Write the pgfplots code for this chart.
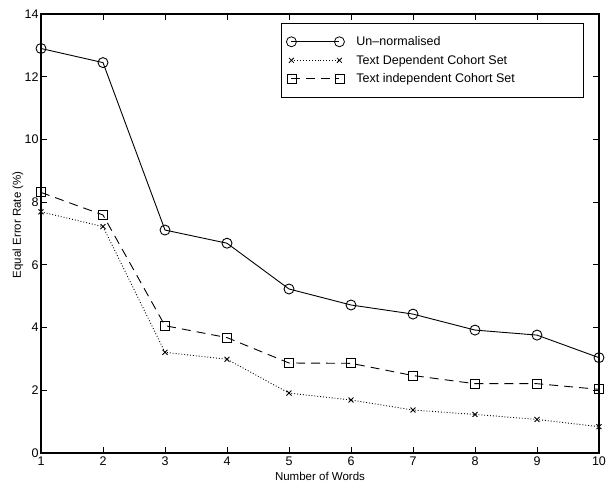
\documentclass[border=0pt]{standalone}
\usepackage{fontspec}
\setmainfont{Liberation Sans}
\usepackage{pgfplots}
\pgfplotsset{compat=1.18}

\pgfplotstableread{
x  unnorm  tdep  tind
1  12.90   7.69  8.31
2  12.45   7.22  7.59
3  7.11    3.21  4.06
4  6.69    2.99  3.68
5  5.23    1.91  2.87
6  4.72    1.69  2.86
7  4.43    1.37  2.47
8  3.92    1.23  2.21
9  3.76    1.07  2.21
10 3.04    0.84  2.03
}\eer

\begin{document}
\begin{tikzpicture}
\path[use as bounding box] (-41pt,-29pt) rectangle (565pt,453pt);
\begin{axis}[
  at={(0pt,0pt)}, anchor=south west,
  scale only axis, width=558pt, height=439pt,
  xmin=1, xmax=10, ymin=0, ymax=14,
  xtick={1,...,10}, ytick={0,2,...,14},
  tick align=inside, major tick length=6pt,
  axis line style={line width=1.1pt},
  tick style={line width=0.9pt, black},
  /pgf/number format/assume math mode=true,
  tick label style={font=\fontsize{12.5}{14}\selectfont},
  yticklabel style={xshift=1pt},
  label style={font=\fontsize{11.5}{13}\selectfont},
  xlabel={Number of Words},
  ylabel={Equal Error Rate (\%)},
  xlabel style={at={(0.5,0)}, anchor=center, yshift=-23pt},
  ylabel style={at={(0,0.52)}, anchor=center, yshift=23pt},
  legend style={at={(0.430,0.9795)}, anchor=north west, draw=black,
    line width=1pt, font=\fontsize{12.5}{15}\selectfont,
    inner xsep=5pt, inner ysep=11pt, row sep=4pt,
    /tikz/every odd column/.append style={column sep=10pt}},
  legend cell align=left,
  legend image code/.code={
    \draw[#1, line width=0.8pt] plot coordinates {(0pt,0pt) (48pt,0pt)};
  },
]
\addplot[black, line width=0.9pt, mark=o, mark size=5pt, mark options={solid}]
  table[x=x, y=unnorm] {\eer};
\addlegendentry{\makebox[220pt][l]{Un--normalised}}
\addplot[black, line width=0.9pt, dotted, mark=x, mark size=3.5pt, mark options={solid}]
  table[x=x, y=tdep] {\eer};
\addlegendentry{Text Dependent Cohort Set}
\addplot[black, line width=0.9pt, dashed, dash pattern=on 9pt off 6pt, mark=square, mark size=4.5pt, mark options={solid}]
  table[x=x, y=tind] {\eer};
\addlegendentry{Text independent Cohort Set}
\end{axis}
\end{tikzpicture}
\end{document}
